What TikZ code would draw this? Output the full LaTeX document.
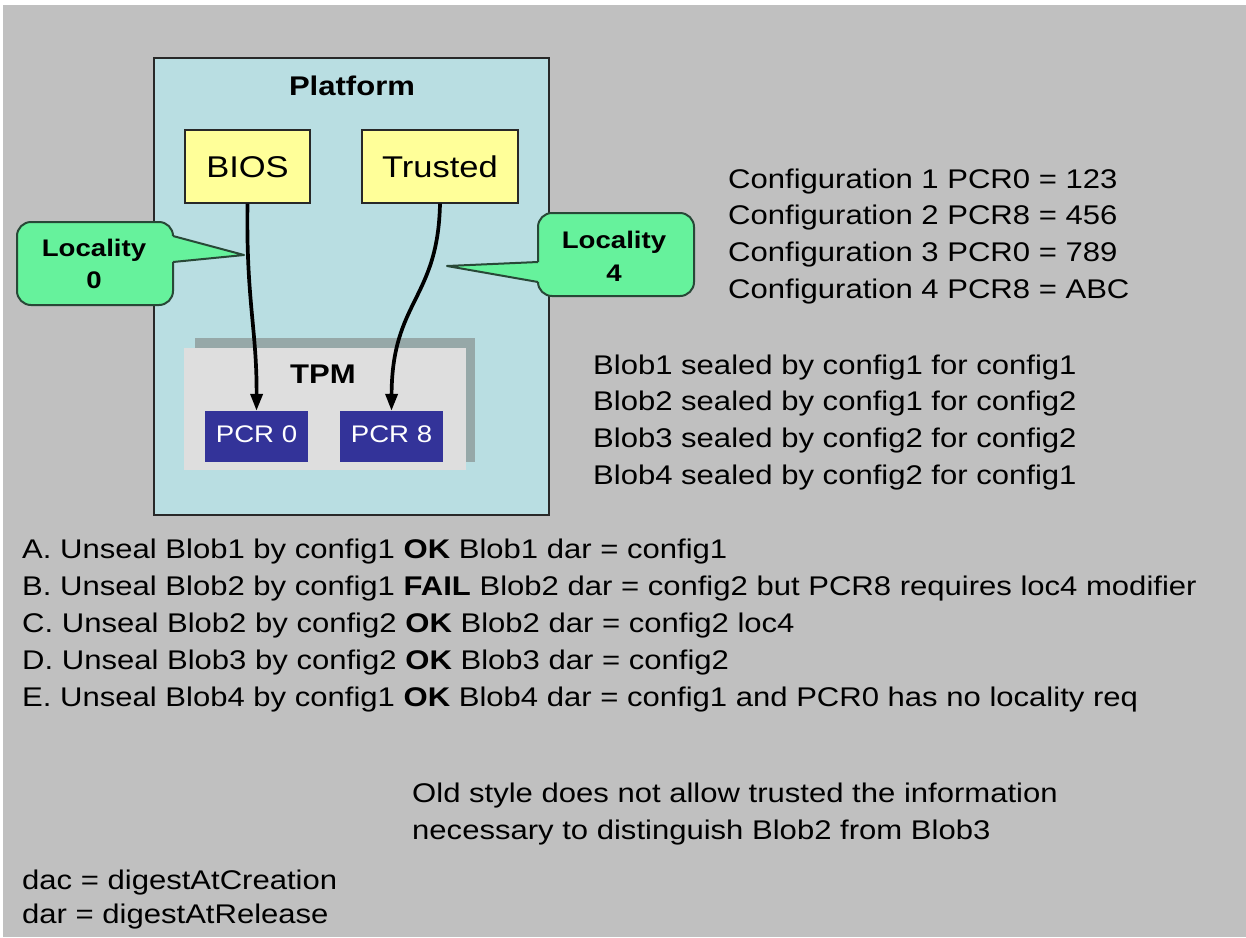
\documentclass[tikz,border=0pt]{standalone}
\usepackage{fontspec}
\setmainfont{Liberation Sans}[FakeStretch=1.15]
\usetikzlibrary{arrows.meta}
\definecolor{bggray}{RGB}{192,192,192}
\definecolor{platfill}{RGB}{185,222,226}
\definecolor{yel}{RGB}{255,255,153}
\definecolor{calgreen}{RGB}{102,242,156}
\definecolor{caledge}{RGB}{40,72,55}
\definecolor{tpmshadow}{RGB}{150,168,168}
\definecolor{tpmfill}{RGB}{222,222,222}
\definecolor{pcrblue}{RGB}{51,51,153}
\definecolor{edgedark}{RGB}{40,40,40}
\tikzset{
  txt/.style={inner sep=0pt, anchor=base west, font=\fontsize{27}{32}\selectfont},
  ctxt/.style={inner sep=0pt, anchor=base, font=\fontsize{27}{32}\selectfont},
  boxplat/.style={draw=edgedark, line width=1.5pt, fill=platfill, inner sep=0pt},
  yelbox/.style={draw=edgedark, line width=1.2pt, fill=yel, inner sep=0pt},
  pcrbox/.style={fill=pcrblue, inner sep=0pt, minimum width=103pt, minimum height=51pt},
  callbox/.style={draw=caledge, line width=2pt, fill=calgreen, rounded corners=14pt},
  callfill/.style={fill=calgreen},
  calledge/.style={draw=caledge, line width=2pt, line join=round},
  loctxt/.style={inner sep=0pt, anchor=base, font=\fontsize{24}{28}\bfseries\selectfont},
  flow/.style={line width=3.7pt, -{Triangle[length=17pt,width=12pt]}},
}
\begin{document}
\begin{tikzpicture}[x=1pt,y=-1pt]
\useasboundingbox (0,0) rectangle (1246,937);
\fill[white] (0,0) rectangle (1246,937);
\fill[bggray] (3,5) rectangle (1246,937);

% platform
\node[boxplat, minimum width=395pt, minimum height=457pt] (platform) at (351.5,286.5) {};
\node[ctxt, font=\fontsize{27}{32}\bfseries\selectfont] (plattitle) at (352,95) {Platform};

% BIOS and Trusted
\node[yelbox, minimum width=125pt, minimum height=73pt] (bios) at (247.5,166.5) {};
\node[ctxt, font=\fontsize{30}{34}\selectfont] (biostxt) at (247.5,177) {BIOS};
\node[yelbox, minimum width=156pt, minimum height=73pt] (trusted) at (440,166.5) {};
\node[ctxt, font=\fontsize{30}{34}\selectfont] (trustedtxt) at (440,177) {Trusted};

% TPM
\node[fill=tpmshadow, inner sep=0pt, minimum width=280pt, minimum height=124pt] (tpmshadow) at (335,400) {};
\node[fill=tpmfill, inner sep=0pt, minimum width=282pt, minimum height=122pt] (tpm) at (324.5,409) {};
\node[ctxt, font=\fontsize{27}{32}\bfseries\selectfont] (tpmtxt) at (323,383) {TPM};
\node[pcrbox] (pcr0) at (256.5,436.5) {};
\node[ctxt, text=white, font=\fontsize{24}{28}\selectfont] (pcr0txt) at (256.5,442) {PCR 0};
\node[pcrbox] (pcr8) at (391.5,436.5) {};
\node[ctxt, text=white, font=\fontsize{24}{28}\selectfont] (pcr8txt) at (391.5,442) {PCR 8};

% arrows
\draw[flow] (bios.south) .. controls (246,300) and (257,330) .. (pcr0.north);
\draw[flow] (trusted.south) .. controls (438,300) and (392,300) .. (pcr8.north);

% callout Locality 0
\coordinate (tip0) at (244,255);
\coordinate (b0a) at (173,236);
\coordinate (b0b) at (173,262);
\draw[callbox] (17,222) rectangle (173,305);
\fill[callfill] (tip0) -- (b0a) -- (169,237) -- (169,261) -- (b0b) -- cycle;
\draw[calledge] (b0a) -- (tip0) -- (b0b);

% callout Locality 4
\coordinate (tip4) at (447,266);
\coordinate (b4a) at (538,262);
\coordinate (b4b) at (538,282);
\draw[callbox] (538,213) rectangle (694,296);
\fill[callfill] (tip4) -- (b4a) -- (542,263) -- (542,281) -- (b4b) -- cycle;
\draw[calledge] (b4a) -- (tip4) -- (b4b);

\node[loctxt] (loc0a) at (94,256) {Locality};
\node[loctxt] (loc0b) at (94,288) {0};
\node[loctxt] (loc4a) at (614,248) {Locality};
\node[loctxt] (loc4b) at (614,281) {4};

% configurations
\node[txt] (c1) at (728,188) {Configuration 1 PCR0 = 123};
\node[txt] (c2) at (728,224) {Configuration 2 PCR8 = 456};
\node[txt] (c3) at (728,261) {Configuration 3 PCR0 = 789};
\node[txt] (c4) at (728,298) {Configuration 4 PCR8 = ABC};

% blobs
\node[txt] (b1) at (593,374) {Blob1 sealed by config1 for config1};
\node[txt] (b2) at (593,410) {Blob2 sealed by config1 for config2};
\node[txt] (b3) at (593,447) {Blob3 sealed by config2 for config2};
\node[txt] (b4) at (593,484) {Blob4 sealed by config2 for config1};

% cases
\node[txt] (la) at (22,558) {A. Unseal Blob1 by config1 \textbf{OK} Blob1 dar = config1};
\node[txt] (lb) at (22,595) {B. Unseal Blob2 by config1 \textbf{FAIL} Blob2 dar = config2 but PCR8 requires loc4 modifier};
\node[txt] (lc) at (22,632) {C. Unseal Blob2 by config2 \textbf{OK} Blob2 dar = config2 loc4};
\node[txt] (ld) at (22,669) {D. Unseal Blob3 by config2 \textbf{OK} Blob3 dar = config2};
\node[txt] (le) at (22,706) {E. Unseal Blob4 by config1 \textbf{OK} Blob4 dar = config1 and PCR0 has no locality req};

% note
\node[txt] (n1) at (412,802) {Old style does not allow trusted the information};
\node[txt] (n2) at (412,839) {necessary to distinguish Blob2 from Blob3};

% legend
\node[txt] (dac) at (22,889) {dac = digestAtCreation};
\node[txt] (dar) at (22,923) {dar = digestAtRelease};
\end{tikzpicture}
\end{document}
